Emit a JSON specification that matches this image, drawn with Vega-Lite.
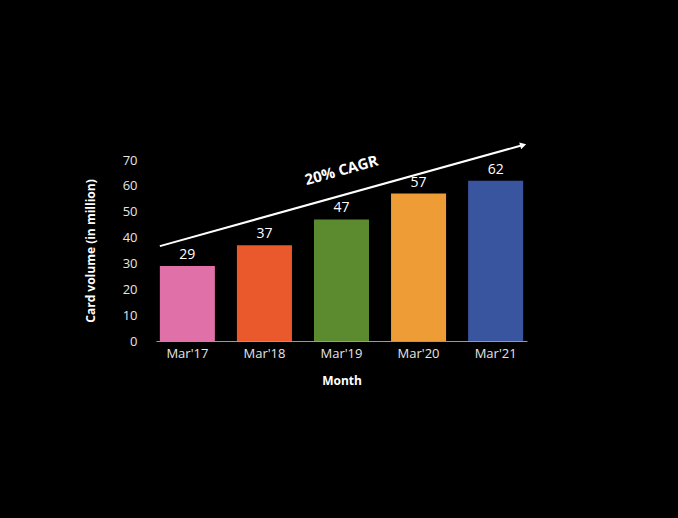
{
  "$schema": "https://vega.github.io/schema/vega-lite/v6.json",
  "width": 371,
  "height": 181,
  "autosize": {"type": "none"},
  "padding": {"left": 156, "top": 160, "right": 151, "bottom": 177},
  "background": "#000000",
  "config": {
    "view": {"stroke": null},
    "font": "Open Sans",
    "axis": {"grid": false, "ticks": false, "labelColor": "#e6e6e6", "titleColor": "#ffffff", "labelFont": "Open Sans", "titleFont": "Open Sans", "labelOverlap": false}
  },
  "datasets": {
    "bars": [
      {"Month": "Mar'17", "Volume": 29},
      {"Month": "Mar'18", "Volume": 37},
      {"Month": "Mar'19", "Volume": 47},
      {"Month": "Mar'20", "Volume": 57},
      {"Month": "Mar'21", "Volume": 62}
    ],
    "trend": [
      {"start": "Mar'17", "end": "Mar'21", "y1": 36.7, "y2": 75.8, "label": "20% CAGR", "mid": "Mar'19", "ly": 66}
    ]
  },
  "encoding": {
    "y": {
      "type": "quantitative",
      "scale": {"domain": [0, 70], "nice": false},
      "axis": {"title": "Card volume (in million)", "values": [0, 10, 20, 30, 40, 50, 60, 70], "tickCount": 10, "labelOverlap": false, "domain": false, "labelFontSize": 13, "labelPadding": 19, "titleFontSize": 12, "titleFontWeight": "bold", "titlePadding": 25}
    }
  },
  "layer": [
    {
      "data": {"name": "bars"},
      "mark": {"type": "bar"},
      "encoding": {
        "x": {
          "field": "Month", "type": "nominal", "sort": null,
          "scale": {"paddingInner": 0.286, "paddingOuter": 0.05},
          "axis": {"title": "Month", "labelAngle": 0, "labelFontSize": 13, "labelPadding": 6, "titleFontSize": 12, "titleFontWeight": "bold", "titlePadding": 15, "domainColor": "#9a9a9a", "domainWidth": 1}
        },
        "y": {"field": "Volume"},
        "color": {
          "field": "Month", "type": "nominal", "sort": null, "legend": null,
          "scale": {"domain": ["Mar'17", "Mar'18", "Mar'19", "Mar'20", "Mar'21"], "range": ["#e070a8", "#e9592c", "#5c8a2e", "#ee9c35", "#3a55a0"]}
        }
      }
    },
    {
      "data": {"name": "bars"},
      "mark": {"type": "text", "color": "#ffffff", "fontSize": 14, "dy": -11, "font": "Open Sans"},
      "encoding": {
        "x": {"field": "Month", "type": "nominal", "sort": null},
        "y": {"field": "Volume"},
        "text": {"field": "Volume", "type": "quantitative"}
      }
    },
    {
      "data": {"name": "trend"},
      "mark": {"type": "rule", "color": "#ffffff", "strokeWidth": 2},
      "encoding": {
        "x": {"field": "start", "type": "nominal", "bandPosition": 0},
        "x2": {"field": "end", "bandPosition": 1},
        "y": {"field": "y1"},
        "y2": {"field": "y2"}
      }
    },
    {
      "data": {"name": "trend"},
      "mark": {"type": "point", "shape": "triangle-right", "filled": true, "color": "#ffffff", "size": 50, "angle": 344.5, "opacity": 1},
      "encoding": {
        "x": {"field": "end", "type": "nominal", "bandPosition": 1},
        "y": {"field": "y2"}
      }
    },
    {
      "data": {"name": "trend"},
      "mark": {"type": "text", "color": "#ffffff", "fontSize": 15, "fontWeight": "bold", "angle": 344.5, "font": "Open Sans"},
      "encoding": {
        "x": {"field": "mid", "type": "nominal"},
        "y": {"field": "ly"},
        "text": {"field": "label"}
      }
    }
  ]
}
